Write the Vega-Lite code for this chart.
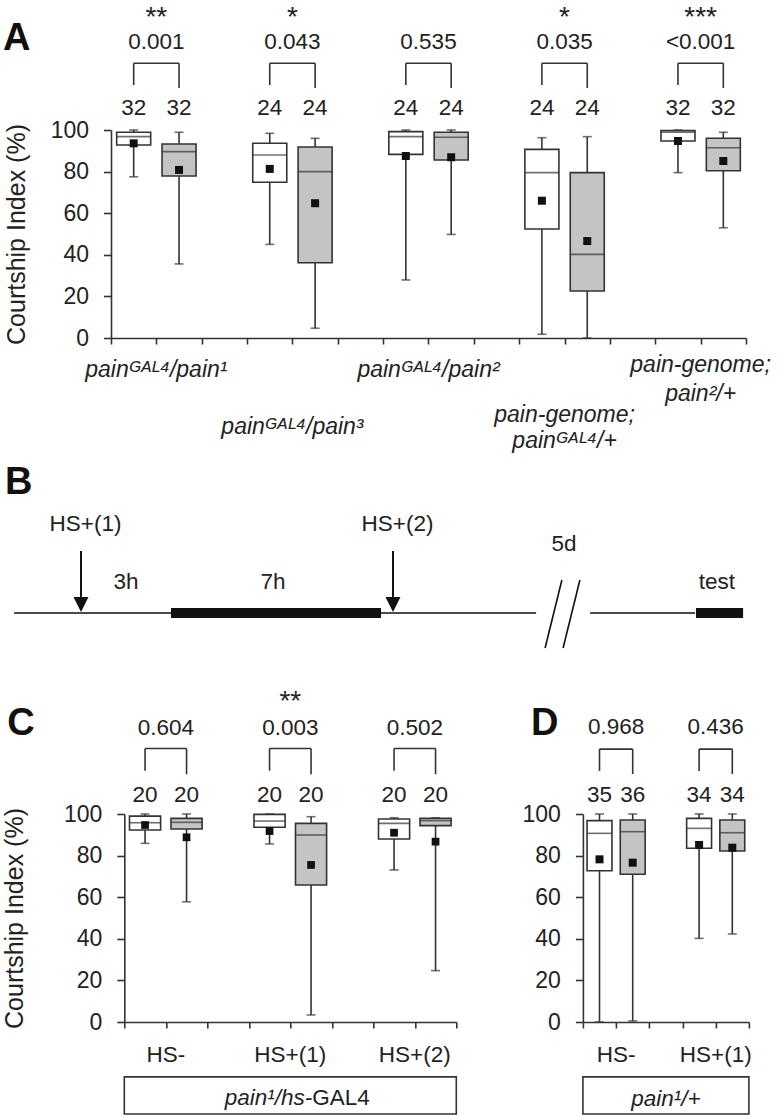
{
 "$schema": "https://vega.github.io/schema/vega-lite/v6.json",
 "autosize": "none",
 "padding": {"left": 111, "top": 130, "right": 667, "bottom": 985},
 "background": "#ffffff",
 "config": {"view": {"stroke": null}, "font": "Liberation Sans", "text": {"color": "#222222", "font": "Liberation Sans"}},
 "datasets": {
  "boxA": [
   {"slot":"1a","set":"first","min":77.5,"q1":92.8,"median":96.8,"q3":98.9,"max":100,"mean":93.6,"n":32},
   {"slot":"1b","set":"second","min":35.6,"q1":77.9,"median":89.6,"q3":93.3,"max":98.9,"mean":80.8,"n":32},
   {"slot":"2a","set":"first","min":45.0,"q1":74.9,"median":88.0,"q3":93.6,"max":98.4,"mean":81.3,"n":24},
   {"slot":"2b","set":"second","min":4.7,"q1":36.2,"median":80.0,"q3":91.8,"max":96.0,"mean":64.8,"n":24},
   {"slot":"3a","set":"first","min":27.9,"q1":88.3,"median":96.8,"q3":99.2,"max":100,"mean":87.5,"n":24},
   {"slot":"3b","set":"second","min":49.8,"q1":85.6,"median":96.5,"q3":98.9,"max":100,"mean":86.9,"n":24},
   {"slot":"4a","set":"first","min":1.8,"q1":52.4,"median":79.5,"q3":90.7,"max":96.3,"mean":66.0,"n":24},
   {"slot":"4b","set":"second","min":0,"q1":22.6,"median":40.2,"q3":79.5,"max":96.8,"mean":46.6,"n":24},
   {"slot":"5a","set":"first","min":79.5,"q1":94.7,"median":98.9,"q3":99.7,"max":100,"mean":94.7,"n":32},
   {"slot":"5b","set":"second","min":53.0,"q1":80.4,"median":91.5,"q3":96.0,"max":98.9,"mean":85.1,"n":32}
  ],
  "pairsA": [
   {"grp":1,"l":"1a","r":"1b","p":"0.001","sig":"**","label":"painᴳᴬᴸ⁴/pain¹"},
   {"grp":2,"l":"2a","r":"2b","p":"0.043","sig":"*","label":"painᴳᴬᴸ⁴/pain³"},
   {"grp":3,"l":"3a","r":"3b","p":"0.535","sig":"","label":"painᴳᴬᴸ⁴/pain²"},
   {"grp":4,"l":"4a","r":"4b","p":"0.035","sig":"*","label":["pain-genome;","painᴳᴬᴸ⁴/+"]},
   {"grp":5,"l":"5a","r":"5b","p":"<0.001","sig":"***","label":["pain-genome;","pain²/+"]}
  ],
  "boxC": [
   {"slot":"HS- a","set":"first","min":85.9,"q1":92.3,"median":95.8,"q3":99.0,"max":100,"mean":94.7,"n":20},
   {"slot":"HS- b","set":"second","min":57.8,"q1":92.8,"median":96.0,"q3":97.9,"max":100,"mean":88.8,"n":20},
   {"slot":"HS+(1) a","set":"first","min":85.6,"q1":93.6,"median":96.6,"q3":99.8,"max":100,"mean":91.8,"n":20},
   {"slot":"HS+(1) b","set":"second","min":3.4,"q1":65.9,"median":89.9,"q3":95.5,"max":98.7,"mean":75.5,"n":20},
   {"slot":"HS+(2) a","set":"first","min":73.1,"q1":88.0,"median":95.5,"q3":97.6,"max":98.2,"mean":91.0,"n":20},
   {"slot":"HS+(2) b","set":"second","min":24.7,"q1":94.4,"median":96.8,"q3":97.9,"max":98.2,"mean":86.7,"n":20}
  ],
  "pairsC": [
   {"l":"HS- a","r":"HS- b","p":"0.604","sig":"","cond":"HS-"},
   {"l":"HS+(1) a","r":"HS+(1) b","p":"0.003","sig":"**","cond":"HS+(1)"},
   {"l":"HS+(2) a","r":"HS+(2) b","p":"0.502","sig":"","cond":"HS+(2)"}
  ],
  "boxD": [
   {"slot":"HS- a","set":"first","min":0,"q1":72.7,"median":90.7,"q3":96.8,"max":100,"mean":78.2,"n":35},
   {"slot":"HS- b","set":"second","min":0.5,"q1":71.0,"median":91.5,"q3":97.1,"max":100,"mean":76.6,"n":36},
   {"slot":"HS+(1) a","set":"first","min":40.2,"q1":83.5,"median":93.1,"q3":97.9,"max":100,"mean":85.1,"n":34},
   {"slot":"HS+(1) b","set":"second","min":42.3,"q1":82.2,"median":91.0,"q3":97.1,"max":100,"mean":83.8,"n":34}
  ],
  "pairsD": [
   {"l":"HS- a","r":"HS- b","p":"0.968","sig":"","cond":"HS-"},
   {"l":"HS+(1) a","r":"HS+(1) b","p":"0.436","sig":"","cond":"HS+(1)"}
  ],
  "tlLines": [{"from": -2.23, "to": 15.17}, {"from": 16.97, "to": 20.47}],
  "tlPhases": [{"start": 3, "end": 10}, {"start": 20.5, "end": 22.07}],
  "tlShocks": [{"t": 0, "label": "HS+(1)"}, {"t": 10.4, "label": "HS+(2)"}],
  "tlNotes": [{"t": 1.5, "note": "3h"}, {"t": 6.4, "note": "7h"}, {"t": 21.2, "note": "test"}, {"t": 16.1, "note": "5d"}],
  "tlBreak": [{"a": 16.03, "b": 15.47}, {"a": 16.63, "b": 16.07}]
 },
 "bounds": "flush",
 "spacing": 125,
 "vconcat": [
  {
   "width": 635, "height": 208,
   "title": {"text": "A", "anchor": "start", "frame": "group", "orient": "top", "fontSize": 38, "fontWeight": "bold", "font": "Liberation Sans", "color": "#111111", "baseline": "alphabetic", "offset": 0, "dx": -108, "dy": 84},
   "layer": [
    {"data": {"name": "boxA"}, "mark": {"type": "rule", "color": "#333333", "strokeWidth": 1.6},
     "encoding": {
      "x": {"field": "slot", "type": "nominal", "scale": {"domain": ["1a","1b","1_","2a","2b","2_","3a","3b","3_","4a","4b","4_","5a","5b"], "paddingInner": 0, "paddingOuter": 0}, "axis": {"title": null, "labels": false, "tickBand": "extent", "tickSize": 6, "tickWidth": 1.6, "tickColor": "#333333", "domainColor": "#333333", "domainWidth": 1.6, "grid": false}},
      "y": {"field": "min", "type": "quantitative", "scale": {"domain": [0, 100], "nice": false, "zero": false}, "axis": {"title": "Courtship Index (%)", "values": [0,20,40,60,80,100], "grid": false, "tickSize": 7.5, "tickWidth": 1.6, "tickColor": "#333333", "domainColor": "#333333", "domainWidth": 1.6, "labelFontSize": 23, "labelFont": "Liberation Sans", "labelColor": "#222222", "labelPadding": 15, "titleFontSize": 25, "titleFont": "Liberation Sans", "titleFontWeight": "normal", "titleColor": "#222222", "titlePadding": 21}},
      "y2": {"field": "max"}
     }},
    {"data": {"name": "boxA"}, "mark": {"type": "tick", "color": "#333333", "thickness": 1.6, "size": 9},
     "encoding": {"x": {"field": "slot", "type": "nominal"}, "y": {"field": "min", "type": "quantitative"}}},
    {"data": {"name": "boxA"}, "mark": {"type": "tick", "color": "#333333", "thickness": 1.6, "size": 9},
     "encoding": {"x": {"field": "slot", "type": "nominal"}, "y": {"field": "max", "type": "quantitative"}}},
    {"data": {"name": "boxA"}, "mark": {"type": "bar", "width": {"band": 0.75}, "stroke": "#333333", "strokeWidth": 1.6},
     "encoding": {"x": {"field": "slot", "type": "nominal"}, "y": {"field": "q1", "type": "quantitative"}, "y2": {"field": "q3"},
      "fill": {"field": "set", "type": "nominal", "scale": {"domain": ["first", "second"], "range": ["#ffffff", "#c4c4c4"]}, "legend": null}}},
    {"data": {"name": "boxA"}, "mark": {"type": "tick", "color": "#333333", "thickness": 1.6, "size": 34},
     "encoding": {"x": {"field": "slot", "type": "nominal"}, "y": {"field": "median", "type": "quantitative"}}},
    {"data": {"name": "boxA"}, "mark": {"type": "point", "shape": "square", "filled": true, "color": "#111111", "size": 64, "opacity": 1},
     "encoding": {"x": {"field": "slot", "type": "nominal"}, "y": {"field": "mean", "type": "quantitative"}}},
    {"data": {"name": "boxA"}, "mark": {"type": "text", "fontSize": 22.5, "baseline": "alphabetic"},
     "encoding": {"x": {"field": "slot", "type": "nominal"}, "y": {"datum": 107.2}, "text": {"field": "n"}}},
    {"data": {"name": "pairsA"}, "mark": {"type": "rule", "color": "#333333", "strokeWidth": 1.6},
     "encoding": {"x": {"field": "l", "type": "nominal"}, "x2": {"field": "r"}, "y": {"datum": 132.1}}},
    {"data": {"name": "pairsA"}, "mark": {"type": "rule", "color": "#333333", "strokeWidth": 1.6},
     "encoding": {"x": {"field": "l", "type": "nominal"}, "y": {"datum": 121.6}, "y2": {"datum": 132.1}}},
    {"data": {"name": "pairsA"}, "mark": {"type": "rule", "color": "#333333", "strokeWidth": 1.6},
     "encoding": {"x": {"field": "r", "type": "nominal"}, "y": {"datum": 120.2}, "y2": {"datum": 132.1}}},
    {"data": {"name": "pairsA"}, "mark": {"type": "text", "fontSize": 22.5, "baseline": "alphabetic"},
     "encoding": {"x": {"field": "l", "type": "nominal", "bandPosition": 1}, "y": {"datum": 138.8}, "text": {"field": "p"}}},
    {"data": {"name": "pairsA"}, "mark": {"type": "text", "fontSize": 28, "baseline": "alphabetic"},
     "encoding": {"x": {"field": "l", "type": "nominal", "bandPosition": 1}, "y": {"datum": 150.2}, "text": {"field": "sig"}}},
    {"data": {"name": "pairsA"}, "transform": [{"filter": "datum.grp == 1 || datum.grp == 3"}], "mark": {"type": "text", "fontSize": 23, "fontStyle": "italic", "baseline": "alphabetic"},
     "encoding": {"x": {"field": "l", "type": "nominal", "bandPosition": 1}, "y": {"datum": -18.9}, "text": {"field": "label"}}},
    {"data": {"name": "pairsA"}, "transform": [{"filter": "datum.grp == 5"}], "mark": {"type": "text", "fontSize": 23, "fontStyle": "italic", "baseline": "alphabetic", "lineHeight": 29},
     "encoding": {"x": {"field": "l", "type": "nominal", "bandPosition": 1}, "y": {"datum": -16.2}, "text": {"field": "label"}}},
    {"data": {"name": "pairsA"}, "transform": [{"filter": "datum.grp == 2"}], "mark": {"type": "text", "fontSize": 23, "fontStyle": "italic", "baseline": "alphabetic"},
     "encoding": {"x": {"field": "l", "type": "nominal", "bandPosition": 1}, "y": {"datum": -46.3}, "text": {"field": "label"}}},
    {"data": {"name": "pairsA"}, "transform": [{"filter": "datum.grp == 4"}], "mark": {"type": "text", "fontSize": 23, "fontStyle": "italic", "baseline": "alphabetic", "lineHeight": 26},
     "encoding": {"x": {"field": "l", "type": "nominal", "bandPosition": 1}, "y": {"datum": -40.2}, "text": {"field": "label"}}}
   ]
  },
  {
   "width": 635, "height": 226,
   "title": {"text": "B", "anchor": "start", "frame": "group", "orient": "top", "fontSize": 38, "fontWeight": "bold", "font": "Liberation Sans", "color": "#111111", "baseline": "alphabetic", "offset": 0, "dx": -106, "dy": 69},
   "layer": [
    {"data": {"name": "tlLines"}, "mark": {"type": "rule", "color": "#111111", "strokeWidth": 1.6},
     "encoding": {
      "x": {"field": "from", "type": "quantitative", "scale": {"domain": [1, 22.1667], "nice": false, "zero": false}, "axis": null},
      "x2": {"field": "to"},
      "y": {"datum": 0, "type": "quantitative", "scale": {"domain": [-7.6, 15], "nice": false, "zero": false}, "axis": null}
     }},
    {"data": {"name": "tlPhases"}, "mark": {"type": "rect", "color": "#111111"},
     "encoding": {"x": {"field": "start", "type": "quantitative"}, "x2": {"field": "end"}, "y": {"datum": 0.5}, "y2": {"datum": -0.5}}},
    {"data": {"name": "tlShocks"}, "mark": {"type": "rule", "color": "#111111", "strokeWidth": 2},
     "encoding": {"x": {"field": "t", "type": "quantitative"}, "y": {"datum": 6.2}, "y2": {"datum": 1.3}}},
    {"data": {"name": "tlShocks"}, "mark": {"type": "point", "shape": "M-1,-1L1,-1L0,1Z", "filled": true, "color": "#111111", "size": 225, "opacity": 1},
     "encoding": {"x": {"field": "t", "type": "quantitative"}, "y": {"datum": 0.85}}},
    {"data": {"name": "tlShocks"}, "mark": {"type": "text", "fontSize": 22.5, "baseline": "alphabetic", "dx": 4.5},
     "encoding": {"x": {"field": "t", "type": "quantitative"}, "y": {"datum": 8.23}, "text": {"field": "label"}}},
    {"data": {"name": "tlNotes"}, "transform": [{"filter": "datum.note != '5d'"}], "mark": {"type": "text", "fontSize": 22.5, "baseline": "alphabetic"},
     "encoding": {"x": {"field": "t", "type": "quantitative"}, "y": {"datum": 2.4}, "text": {"field": "note"}}},
    {"data": {"name": "tlNotes"}, "transform": [{"filter": "datum.note == '5d'"}], "mark": {"type": "text", "fontSize": 22.5, "baseline": "alphabetic"},
     "encoding": {"x": {"field": "t", "type": "quantitative"}, "y": {"datum": 6.23}, "text": {"field": "note"}}},
    {"data": {"name": "tlBreak"}, "mark": {"type": "rule", "color": "#111111", "strokeWidth": 1.6},
     "encoding": {"x": {"field": "a", "type": "quantitative"}, "x2": {"field": "b"}, "y": {"datum": 3.3}, "y2": {"datum": -3.5}}}
   ]
  },
  {
   "bounds": "flush",
   "spacing": 12.3,
   "hconcat": [
    {"width": 1, "height": 208, "data": {"values": []}, "mark": "point"},
    {
     "width": 332, "height": 208,
     "title": {"text": "C", "anchor": "start", "frame": "group", "orient": "top", "fontSize": 38, "fontWeight": "bold", "font": "Liberation Sans", "color": "#111111", "baseline": "alphabetic", "offset": 0, "dx": -117, "dy": 84.6},
     "layer": [
      {"data": {"name": "boxC"}, "mark": {"type": "rule", "color": "#333333", "strokeWidth": 1.6},
       "encoding": {
        "x": {"field": "slot", "type": "nominal", "scale": {"domain": ["HS- a","HS- b","g1","HS+(1) a","HS+(1) b","g2","HS+(2) a","HS+(2) b"], "paddingInner": 0, "paddingOuter": 0}, "axis": {"title": null, "labels": false, "tickBand": "extent", "tickSize": 6, "tickWidth": 1.6, "tickColor": "#333333", "domainColor": "#333333", "domainWidth": 1.6, "grid": false}},
        "y": {"field": "min", "type": "quantitative", "scale": {"domain": [0, 100], "nice": false, "zero": false}, "axis": {"title": "Courtship Index (%)", "values": [0,20,40,60,80,100], "grid": false, "tickSize": 7.5, "tickWidth": 1.6, "tickColor": "#333333", "domainColor": "#333333", "domainWidth": 1.6, "labelFontSize": 23, "labelFont": "Liberation Sans", "labelColor": "#222222", "labelPadding": 15, "titleFontSize": 25, "titleFont": "Liberation Sans", "titleFontWeight": "normal", "titleColor": "#222222", "titlePadding": 36}},
        "y2": {"field": "max"}
       }},
      {"data": {"name": "boxC"}, "mark": {"type": "tick", "color": "#333333", "thickness": 1.6, "size": 9},
       "encoding": {"x": {"field": "slot", "type": "nominal"}, "y": {"field": "min", "type": "quantitative"}}},
      {"data": {"name": "boxC"}, "mark": {"type": "tick", "color": "#333333", "thickness": 1.6, "size": 9},
       "encoding": {"x": {"field": "slot", "type": "nominal"}, "y": {"field": "max", "type": "quantitative"}}},
      {"data": {"name": "boxC"}, "mark": {"type": "bar", "width": {"band": 0.75}, "stroke": "#333333", "strokeWidth": 1.6},
       "encoding": {"x": {"field": "slot", "type": "nominal"}, "y": {"field": "q1", "type": "quantitative"}, "y2": {"field": "q3"},
        "fill": {"field": "set", "type": "nominal", "scale": {"domain": ["first", "second"], "range": ["#ffffff", "#c4c4c4"]}, "legend": null}}},
      {"data": {"name": "boxC"}, "mark": {"type": "tick", "color": "#333333", "thickness": 1.6, "size": 31.1},
       "encoding": {"x": {"field": "slot", "type": "nominal"}, "y": {"field": "median", "type": "quantitative"}}},
      {"data": {"name": "boxC"}, "mark": {"type": "point", "shape": "square", "filled": true, "color": "#111111", "size": 60, "opacity": 1},
       "encoding": {"x": {"field": "slot", "type": "nominal"}, "y": {"field": "mean", "type": "quantitative"}}},
      {"data": {"name": "boxC"}, "mark": {"type": "text", "fontSize": 22.5, "baseline": "alphabetic"},
       "encoding": {"x": {"field": "slot", "type": "nominal"}, "y": {"datum": 105.9}, "text": {"field": "n"}}},
      {"data": {"name": "pairsC"}, "mark": {"type": "rule", "color": "#333333", "strokeWidth": 1.6},
       "encoding": {"x": {"field": "l", "type": "nominal"}, "x2": {"field": "r"}, "y": {"datum": 131.5}}},
      {"data": {"name": "pairsC"}, "mark": {"type": "rule", "color": "#333333", "strokeWidth": 1.6},
       "encoding": {"x": {"field": "l", "type": "nominal"}, "y": {"datum": 120.8}, "y2": {"datum": 131.5}}},
      {"data": {"name": "pairsC"}, "mark": {"type": "rule", "color": "#333333", "strokeWidth": 1.6},
       "encoding": {"x": {"field": "r", "type": "nominal"}, "y": {"datum": 119.1}, "y2": {"datum": 131.5}}},
      {"data": {"name": "pairsC"}, "mark": {"type": "text", "fontSize": 22.5, "baseline": "alphabetic"},
       "encoding": {"x": {"field": "l", "type": "nominal", "bandPosition": 1}, "y": {"datum": 138.0}, "text": {"field": "p"}}},
      {"data": {"name": "pairsC"}, "mark": {"type": "text", "fontSize": 28, "baseline": "alphabetic"},
       "encoding": {"x": {"field": "l", "type": "nominal", "bandPosition": 1}, "y": {"datum": 149.8}, "text": {"field": "sig"}}},
      {"data": {"name": "pairsC"}, "mark": {"type": "text", "fontSize": 22.5, "baseline": "alphabetic"},
       "encoding": {"x": {"field": "l", "type": "nominal", "bandPosition": 1}, "y": {"datum": -19.1}, "text": {"field": "cond"}}},
      {"data": {"values": [{"genotype": "pain¹/hs-GAL4"}]}, "mark": {"type": "rect", "fill": "#ffffff", "stroke": "#333333", "strokeWidth": 1.6},
       "encoding": {"y": {"datum": -26.4}, "y2": {"datum": -44.2}}},
      {"data": {"values": [{"part": "pain¹/hs-"}]}, "mark": {"type": "text", "fontSize": 22.5, "fontStyle": "italic", "baseline": "alphabetic", "align": "right", "dx": 22},
       "encoding": {"y": {"datum": -39.9}, "text": {"field": "part"}}},
      {"data": {"values": [{"part": "GAL4"}]}, "mark": {"type": "text", "fontSize": 22.5, "baseline": "alphabetic", "align": "left", "dx": 22},
       "encoding": {"y": {"datum": -39.9}, "text": {"field": "part"}}}
     ]
    },
    {"width": 101.4, "height": 208, "data": {"values": []}, "mark": "point"},
    {
     "width": 166, "height": 208,
     "title": {"text": "D", "anchor": "start", "frame": "group", "orient": "top", "fontSize": 38, "fontWeight": "bold", "font": "Liberation Sans", "color": "#111111", "baseline": "alphabetic", "offset": 0, "dx": -52, "dy": 57},
     "layer": [
      {"data": {"name": "boxD"}, "mark": {"type": "rule", "color": "#333333", "strokeWidth": 1.6},
       "encoding": {
        "x": {"field": "slot", "type": "nominal", "scale": {"domain": ["HS- a","HS- b","g1","HS+(1) a","HS+(1) b"], "paddingInner": 0, "paddingOuter": 0}, "axis": {"title": null, "labels": false, "tickBand": "extent", "tickSize": 6, "tickWidth": 1.6, "tickColor": "#333333", "domainColor": "#333333", "domainWidth": 1.6, "grid": false}},
        "y": {"field": "min", "type": "quantitative", "scale": {"domain": [0, 100], "nice": false, "zero": false}, "axis": {"title": null, "values": [0,20,40,60,80,100], "grid": false, "tickSize": 7.5, "tickWidth": 1.6, "tickColor": "#333333", "domainColor": "#333333", "domainWidth": 1.6, "labelFontSize": 23, "labelFont": "Liberation Sans", "labelColor": "#222222", "labelPadding": 15}},
        "y2": {"field": "max"}
       }},
      {"data": {"name": "boxD"}, "mark": {"type": "tick", "color": "#333333", "thickness": 1.6, "size": 9},
       "encoding": {"x": {"field": "slot", "type": "nominal"}, "y": {"field": "min", "type": "quantitative"}}},
      {"data": {"name": "boxD"}, "mark": {"type": "tick", "color": "#333333", "thickness": 1.6, "size": 9},
       "encoding": {"x": {"field": "slot", "type": "nominal"}, "y": {"field": "max", "type": "quantitative"}}},
      {"data": {"name": "boxD"}, "mark": {"type": "bar", "width": {"band": 0.75}, "stroke": "#333333", "strokeWidth": 1.6},
       "encoding": {"x": {"field": "slot", "type": "nominal"}, "y": {"field": "q1", "type": "quantitative"}, "y2": {"field": "q3"},
        "fill": {"field": "set", "type": "nominal", "scale": {"domain": ["first", "second"], "range": ["#ffffff", "#c4c4c4"]}, "legend": null}}},
      {"data": {"name": "boxD"}, "mark": {"type": "tick", "color": "#333333", "thickness": 1.6, "size": 24.9},
       "encoding": {"x": {"field": "slot", "type": "nominal"}, "y": {"field": "median", "type": "quantitative"}}},
      {"data": {"name": "boxD"}, "mark": {"type": "point", "shape": "square", "filled": true, "color": "#111111", "size": 64, "opacity": 1},
       "encoding": {"x": {"field": "slot", "type": "nominal"}, "y": {"field": "mean", "type": "quantitative"}}},
      {"data": {"name": "boxD"}, "mark": {"type": "text", "fontSize": 22.5, "baseline": "alphabetic"},
       "encoding": {"x": {"field": "slot", "type": "nominal"}, "y": {"datum": 105.9}, "text": {"field": "n"}}},
      {"data": {"name": "pairsD"}, "mark": {"type": "rule", "color": "#333333", "strokeWidth": 1.6},
       "encoding": {"x": {"field": "l", "type": "nominal"}, "x2": {"field": "r"}, "y": {"datum": 131.2}}},
      {"data": {"name": "pairsD"}, "mark": {"type": "rule", "color": "#333333", "strokeWidth": 1.6},
       "encoding": {"x": {"field": "l", "type": "nominal"}, "y": {"datum": 120.7}, "y2": {"datum": 131.2}}},
      {"data": {"name": "pairsD"}, "mark": {"type": "rule", "color": "#333333", "strokeWidth": 1.6},
       "encoding": {"x": {"field": "r", "type": "nominal"}, "y": {"datum": 119.2}, "y2": {"datum": 131.2}}},
      {"data": {"name": "pairsD"}, "mark": {"type": "text", "fontSize": 22.5, "baseline": "alphabetic"},
       "encoding": {"x": {"field": "l", "type": "nominal", "bandPosition": 1}, "y": {"datum": 138.3}, "text": {"field": "p"}}},
      {"data": {"name": "pairsD"}, "mark": {"type": "text", "fontSize": 22.5, "baseline": "alphabetic"},
       "encoding": {"x": {"field": "l", "type": "nominal", "bandPosition": 1}, "y": {"datum": -19.1}, "text": {"field": "cond"}}},
      {"data": {"values": [{"genotype": "pain¹/+"}]}, "mark": {"type": "rect", "fill": "#ffffff", "stroke": "#333333", "strokeWidth": 1.6},
       "encoding": {"y": {"datum": -26.4}, "y2": {"datum": -44.2}}},
      {"data": {"values": [{"genotype": "pain¹/+"}]}, "mark": {"type": "text", "fontSize": 22.5, "fontStyle": "italic", "baseline": "alphabetic"},
       "encoding": {"y": {"datum": -40.4}, "text": {"field": "genotype"}}}
     ]
    }
   ]
  }
 ]
}
